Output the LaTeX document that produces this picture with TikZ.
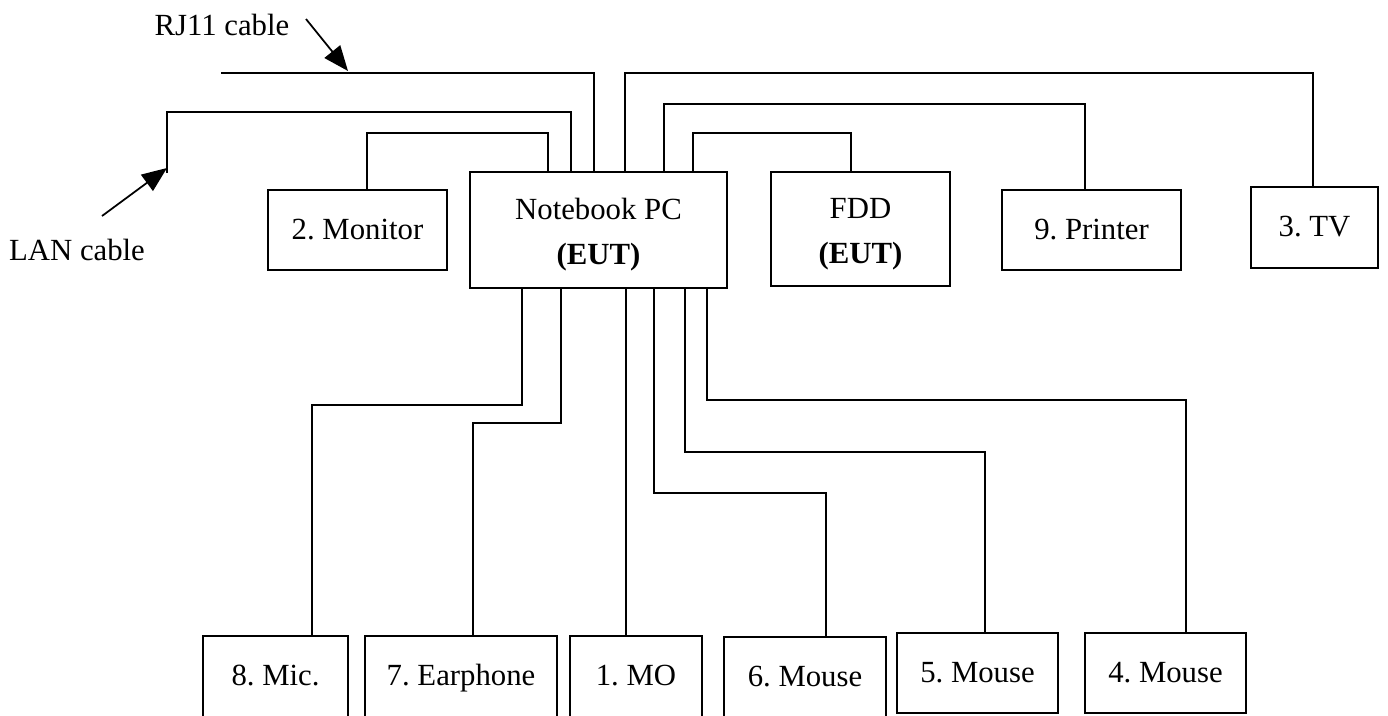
\documentclass[tikz,border=0pt]{standalone}
\usepackage{fontspec}
\setmainfont{Liberation Serif}
\usetikzlibrary{arrows.meta}
\usetikzlibrary{calc}
\frenchspacing
\tikzstyle{unit}=[draw,line width=0.8pt,inner sep=0pt,align=center,font=\fontsize{12.3}{18}\selectfont]
\tikzstyle{caption}=[inner sep=0pt,font=\fontsize{12.3}{18}\selectfont]
\tikzstyle{cable} = [draw,line width=0.8pt]
\tikzstyle{pointer} = [draw,line width=0.7pt,-{Triangle[length=10pt,width=8pt]}]

\begin{document}
\begin{tikzpicture}[x=0.4pt,y=-0.4pt]
    \useasboundingbox (0,0) rectangle (1388,715);
    \clip (0,0) rectangle (1388,715);
    % Units of the test set-up, given by left/right/top/bottom edge
    \foreach \name/\xa/\xb/\ya/\yb/\txt in {mon/268/447/190/270/{2. Monitor},
            nb/470/727/172/288/{Notebook PC\\\textbf{(EUT)}},
            fdd/771/950/172/286/{FDD\\\textbf{(EUT)}},
            prn/1002/1181/190/270/{9. Printer}, tv/1251/1378/187/268/{3. TV},
            mic/203/348/636/717/{8. Mic.}, ear/365/557/636/717/{7. Earphone},
            mo/570/702/636/717/{1. MO}, msa/724/886/637/717/{6. Mouse},
            msb/897/1058/633/713/{5. Mouse}, msc/1085/1246/633/713/{4. Mouse}}
        \node[unit,minimum width={(\xb-\xa)*0.4pt},minimum height={(\yb-\ya)*0.4pt}]
            (\name) at ({(\xa+\xb)/2},{(\ya+\yb)/2}) {\strut\txt};

    % Free ends of the line cables
    \coordinate (rj) at (221,73);
    \coordinate (lan) at (167,173);

    % Cables leaving the top of the notebook
    \path[cable] (367,0 |- mon.north) |- (548,133) -- (548,0 |- nb.north);
    \path[cable] (lan) |- (571,112) -- (571,0 |- nb.north);
    \path[cable] (rj) -- (594,73) -- (594,0 |- nb.north);
    \path[cable] (625,0 |- nb.north) |- (1313,73) -- (1313,0 |- tv.north);
    \path[cable] (664,0 |- nb.north) |- (1085,104) -- (1085,0 |- prn.north);
    \path[cable] (693,0 |- nb.north) |- (851,133) -- (851,0 |- fdd.north);

    % Cables leaving the bottom of the notebook
    \foreach \xs/\ylev/\xd/\dest in {522/405/312/mic, 561/423/473/ear, 626/460/626/mo,
                                   654/493/826/msa, 685/452/985/msb, 707/400/1186/msc}
        \path[cable] (\xs,0 |- nb.south) |- (\xd,\ylev) -- (\xd,0 |- \dest.north);

    % Cable labels
    \node[caption] (rjtxt) at (222,25) {RJ11 cable};
    \node[caption] (lantxt) at (77,250) {LAN cable};
    \coordinate (rjtail) at (306,19);
    \coordinate (lantail) at (102,216);
    \path[pointer] (rjtail) -- (348,71);
    \path[pointer] (lantail) -- (167,168);
\end{tikzpicture}
\end{document}
